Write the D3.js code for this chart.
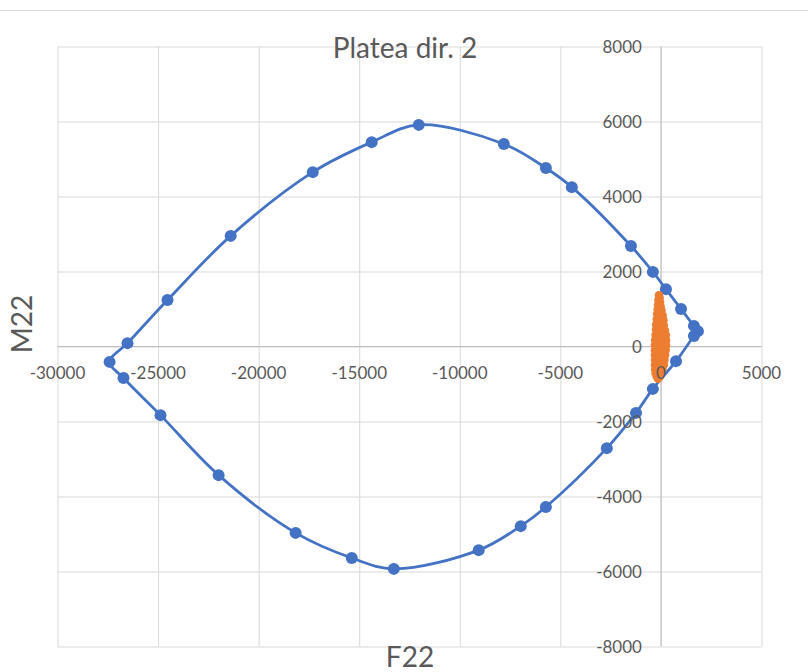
<!DOCTYPE html>
<html>
<head>
<meta charset="utf-8">
<script src="https://cdn.jsdelivr.net/npm/d3@7"></script>
<style>
  body { margin: 0; background: #fff; }
  text { font-family: Lato, "Open Sans", sans-serif; fill: #595959; }
  .grid line { stroke: #d9d9d9; stroke-width: 1; }
  .grid path { display: none; }
</style>
</head>
<body>
<div id="chart"></div>
<script>
// envelope (blue series), going round from the right tip
var blueF = [1840, 1640, 1000, 250, -400, -1490, -4430, -5720, -7810, -12040, -14380, -17310, -21390, -24530, -26520, -27410,
  -26720, -24880, -21990, -18160, -15370, -13280, -9060, -6970, -5720, -2690, -1240, -400, 750, 1640];
var blueM = [410, 550, 1000, 1530, 1990, 2680, 4250, 4760, 5400, 5910, 5450, 4650, 2950, 1240, 90, -410,
  -840, -1830, -3430, -4970, -5640, -5930, -5430, -4790, -4280, -2710, -1770, -1130, -390, 280];

// time history points (orange series), they pile up into a blob near the origin
var orangeF = [-100, -60, -130, -40, -150, -10, -170, 30, -190, 0, 90, -210, -20, 130, -240, -50, 150, -250, 0, 200,
  -270, -20, 250, -290, -10, 260, -300, -30, 260, -300, -50, 240, -300, -40, 210, -300, -50, 180, -300, -60, 150,
  -290, -80, 80, -270, 0, -220, -50, -150];
var orangeM = [1370, 1300, 1240, 1180, 1110, 1060, 980, 960, 860, 850, 830, 720, 700, 700, 580, 570, 560, 450, 440, 430,
  310, 300, 300, 170, 170, 160, 40, 40, 30, -100, -100, -100, -230, -220, -230, -360, -360, -360, -490, -490, -490,
  -610, -600, -610, -710, -700, -800, -800, -860];

var xTicks = [-30000, -25000, -20000, -15000, -10000, -5000, 0, 5000];
var yTicks = [-8000, -6000, -4000, -2000, 0, 2000, 4000, 6000, 8000];

var width = 808, height = 672;
var margin = { top: 46.5, right: 46.5, bottom: 25.5, left: 57.5 };

var svg = d3.select("#chart").append("svg")
  .attr("width", width)
  .attr("height", height);

// chart border top line
svg.append("line")
  .attr("x1", 0).attr("x2", width)
  .attr("y1", 10.5).attr("y2", 10.5)
  .attr("stroke", "#d9d9d9");

var x = d3.scaleLinear().domain([-30000, 5000]).range([margin.left, width - margin.right]);
var y = d3.scaleLinear().domain([-8000, 8000]).range([height - margin.bottom, margin.top]);

// gridlines
svg.append("g")
  .attr("class", "grid")
  .attr("transform", "translate(0," + y(-8000) + ")")
  .call(d3.axisBottom(x).tickValues(xTicks).tickSize(-(y(-8000) - y(8000))).tickFormat(""));
svg.append("g")
  .attr("class", "grid")
  .attr("transform", "translate(" + x(-30000) + ",0)")
  .call(d3.axisLeft(y).tickValues(yTicks).tickSize(-(x(5000) - x(-30000))).tickFormat(""));

// axis lines through the origin
svg.append("line")
  .attr("x1", x(-30000)).attr("x2", x(5000))
  .attr("y1", y(0)).attr("y2", y(0))
  .attr("stroke", "#bfbfbf");
svg.append("line")
  .attr("x1", x(0)).attr("x2", x(0))
  .attr("y1", y(8000)).attr("y2", y(-8000))
  .attr("stroke", "#bfbfbf");

// blue envelope
var blue = blueF.map(function(d, i) { return [d, blueM[i]]; });
var line = d3.line()
  .x(function(d) { return x(d[0]); })
  .y(function(d) { return y(d[1]); })
  .curve(d3.curveCatmullRomClosed.alpha(0.5));

svg.append("path")
  .datum(blue)
  .attr("d", line)
  .attr("fill", "none")
  .attr("stroke", "#4472c4")
  .attr("stroke-width", 2.75);

svg.append("g").selectAll("circle")
  .data(blue)
  .enter().append("circle")
  .attr("cx", function(d) { return x(d[0]); })
  .attr("cy", function(d) { return y(d[1]); })
  .attr("r", 6)
  .attr("fill", "#4472c4");

// orange points
var orange = orangeF.map(function(d, i) { return [d, orangeM[i]]; });
svg.append("g").selectAll("circle")
  .data(orange)
  .enter().append("circle")
  .attr("cx", function(d) { return x(d[0]); })
  .attr("cy", function(d) { return y(d[1]); })
  .attr("r", 4.2)
  .attr("fill", "#ed7d31");

// tick labels, next to the axes through zero
svg.append("g").selectAll("text")
  .data(xTicks)
  .enter().append("text")
  .attr("x", function(d) { return x(d); })
  .attr("y", y(0) + 32)
  .attr("text-anchor", "middle")
  .style("font-size", "17px")
  .text(function(d) { return d; });

svg.append("g").selectAll("text")
  .data(yTicks)
  .enter().append("text")
  .attr("x", x(0) - 19)
  .attr("y", function(d) { return y(d) + 6; })
  .attr("text-anchor", "end")
  .style("font-size", "17px")
  .text(function(d) { return d; });

// titles
svg.append("text")
  .attr("x", 405)
  .attr("y", 58)
  .attr("text-anchor", "middle")
  .style("font-size", "28px")
  .text("Platea dir. 2");

svg.append("text")
  .attr("x", 410)
  .attr("y", 667)
  .attr("text-anchor", "middle")
  .style("font-size", "28px")
  .text("F22");

svg.append("text")
  .attr("transform", "translate(32,324) rotate(-90)")
  .attr("text-anchor", "middle")
  .style("font-size", "28px")
  .text("M22");
</script>
</body>
</html>
